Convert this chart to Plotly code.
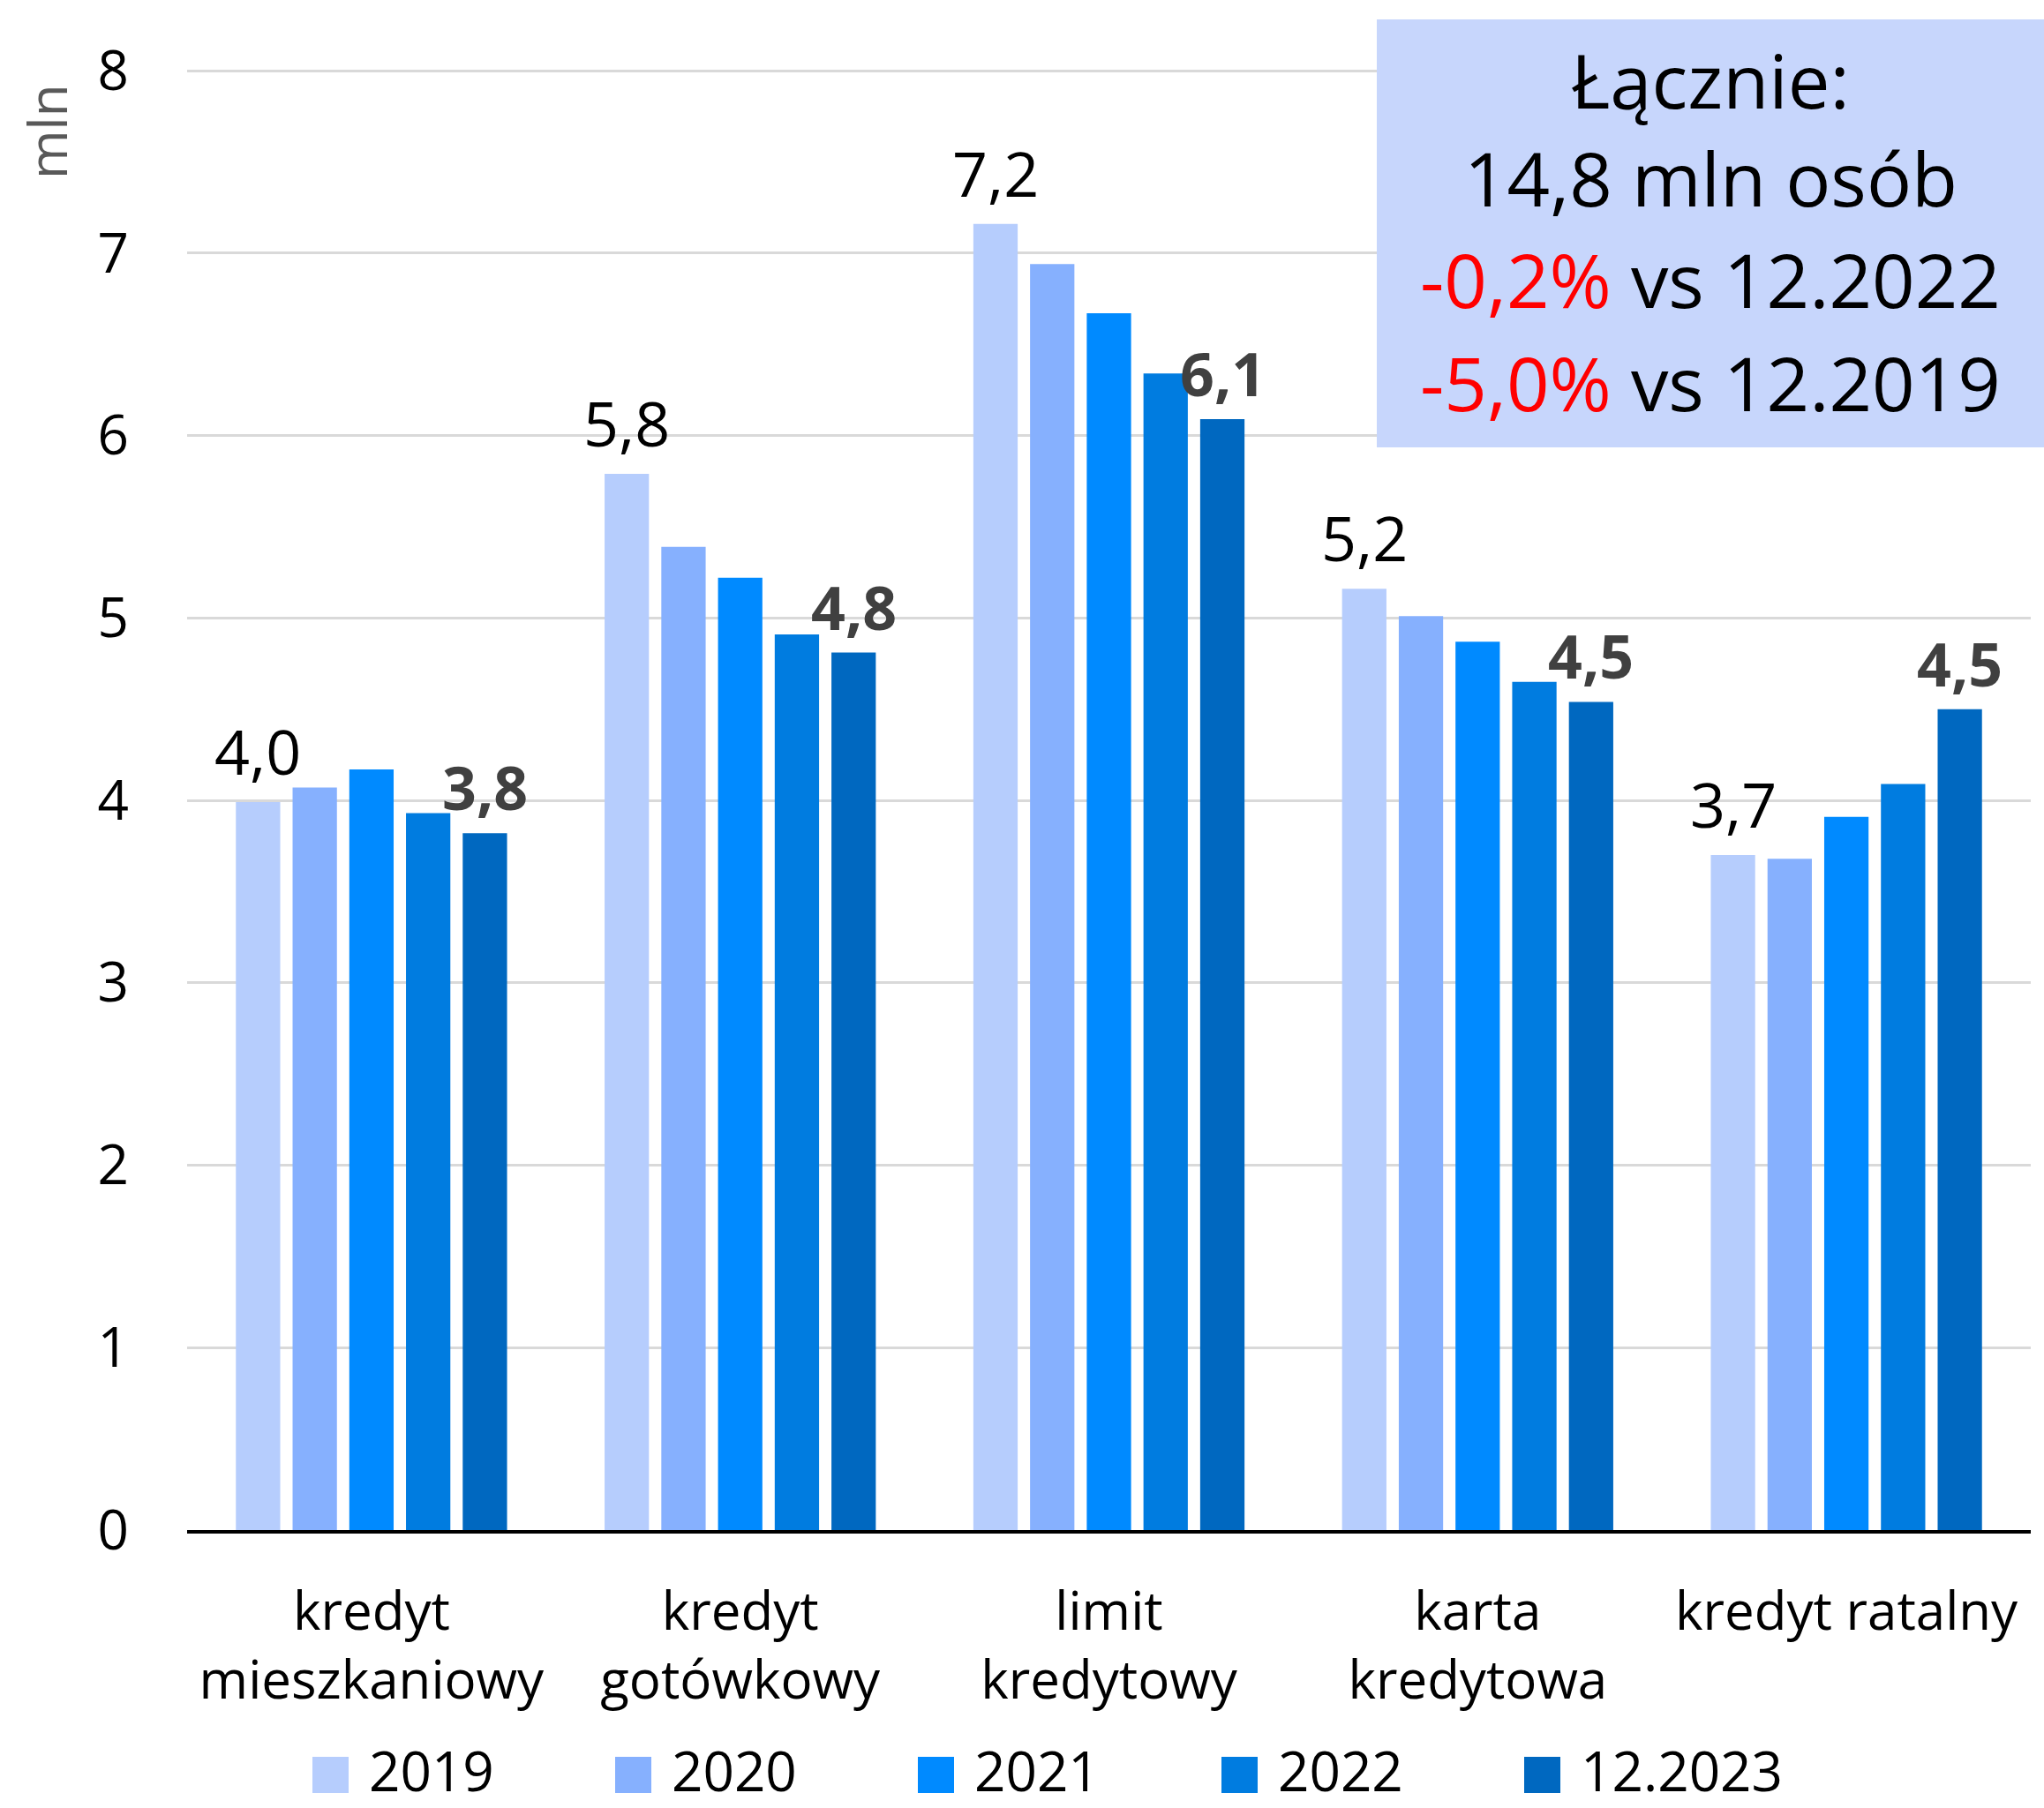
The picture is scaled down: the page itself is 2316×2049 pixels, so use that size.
import plotly.graph_objects as go

categories = ["kredyt<br>mieszkaniowy", "kredyt<br>gotówkowy", "limit<br>kredytowy",
              "karta<br>kredytowa", "kredyt ratalny"]
series_names = ["2019", "2020", "2021", "2022", "12.2023"]
v2019 = [3.99, 5.79, 7.16, 5.16, 3.70]
v2020 = [4.07, 5.39, 6.94, 5.01, 3.68]
v2021 = [4.17, 5.22, 6.67, 4.87, 3.91]
v2022 = [3.93, 4.91, 6.34, 4.65, 4.09]
v2023 = [3.82, 4.81, 6.09, 4.54, 4.50]
series_values = [v2019, v2020, v2021, v2022, v2023]
colors = ["#B6CDFD", "#86B0FE", "#008AFF", "#007CE0", "#0068C0"]
y_ticks = [0, 1, 2, 3, 4, 5, 6, 7, 8]
box_lines = [
    ("", "Łącznie:"),
    ("", "14,8 mln osób"),
    ("-0,2%", " vs 12.2022"),
    ("-5,0%", " vs 12.2019"),
]

FONT = "Open Sans"
W, H = 2316, 2049
ML, MR, MT, MB = 212, 15, 78, 315
PW, PH = W - ML - MR, H - MT - MB
BARGAP, BARGROUPGAP = 0.231, 0.218


def px_x(x):  # screen px -> paper
    return (x - ML) / PW


def px_y(y):
    return (H - MB - y) / PH


def fmt(v):
    return f"{v:.1f}".replace(".", ",")


fig = go.Figure()
for name, vals, col in zip(series_names, series_values, colors):
    fig.add_trace(go.Bar(
        x=categories, y=vals, name=name, marker_color=col,
        marker_line_width=0, showlegend=False))

# data labels for first and last series, centred above their bars
n = len(series_names)
slot_px = PW / len(categories) * (1 - BARGAP) / n
for idx, bold, color, size, ysh in [(0, False, "#000000", 70, 8),
                                    (n - 1, True, "#404040", 68, 4)]:
    for cat, v in zip(categories, series_values[idx]):
        t = fmt(v)
        fig.add_annotation(x=cat, y=v, xref="x", yref="y",
                           text=f"<b>{t}</b>" if bold else t,
                           showarrow=False, xanchor="center", yanchor="bottom",
                           xshift=(idx - (n - 1) / 2) * slot_px, yshift=ysh,
                           font=dict(family=FONT, size=size, color=color))

# Summary box
fig.add_shape(type="rect", xref="paper", yref="paper",
              x0=px_x(1560), x1=px_x(2360), y0=px_y(507), y1=px_y(22),
              fillcolor="#C7D6FC", line_width=0, layer="above")
line_y = [90, 201, 316, 433]
for (red, rest), yy in zip(box_lines, line_y):
    txt = (f"<span style='color:#FF0000'>{red}</span>" if red else "") + rest
    fig.add_annotation(xref="paper", yref="paper", x=px_x(1938), y=px_y(yy),
                       text=txt, showarrow=False, xanchor="center", yanchor="middle",
                       font=dict(family=FONT, size=85, color="#000000"))

# Legend
leg_x = [354, 697, 1040, 1384, 1727]
for name, col, lx in zip(series_names, colors, leg_x):
    fig.add_shape(type="rect", xref="paper", yref="paper",
                  x0=px_x(lx), x1=px_x(lx + 41), y0=px_y(2032), y1=px_y(1991),
                  fillcolor=col, line_width=0)
    fig.add_annotation(xref="paper", yref="paper", x=px_x(lx + 62), y=px_y(2006),
                       text=name, showarrow=False, xanchor="left", yanchor="middle",
                       font=dict(family=FONT, size=62, color="#000000"))

fig.update_layout(
    width=W, height=H,
    margin=dict(l=ML, r=MR, t=MT, b=MB, pad=0),
    paper_bgcolor="white", plot_bgcolor="white",
    barmode="group", bargap=BARGAP, bargroupgap=BARGROUPGAP,
    showlegend=False,
    font=dict(family=FONT, color="#000000"),
)
fig.update_xaxes(showline=True, linecolor="#000000", linewidth=4,
                 tickfont=dict(family=FONT, size=60, color="#000000"),
                 ticks="", ticklabelstandoff=37, showgrid=False)
fig.update_yaxes(range=[0, 8.01], tickvals=y_ticks, showgrid=True, gridcolor="#D9D9D9",
                 gridwidth=3, zeroline=False, showline=False,
                 tickfont=dict(family=FONT, size=62, color="#000000"),
                 ticklabelstandoff=65)
fig.add_annotation(xref="paper", yref="paper", x=px_x(53), y=px_y(149),
                   text="mln", textangle=-90, showarrow=False,
                   xanchor="center", yanchor="middle",
                   font=dict(family=FONT, size=60, color="#595959"))

fig.write_html(
    "out.html",
    config={"displayModeBar": False},
    post_script="document.body.style.margin='0';document.body.style.overflow='hidden';",
)
